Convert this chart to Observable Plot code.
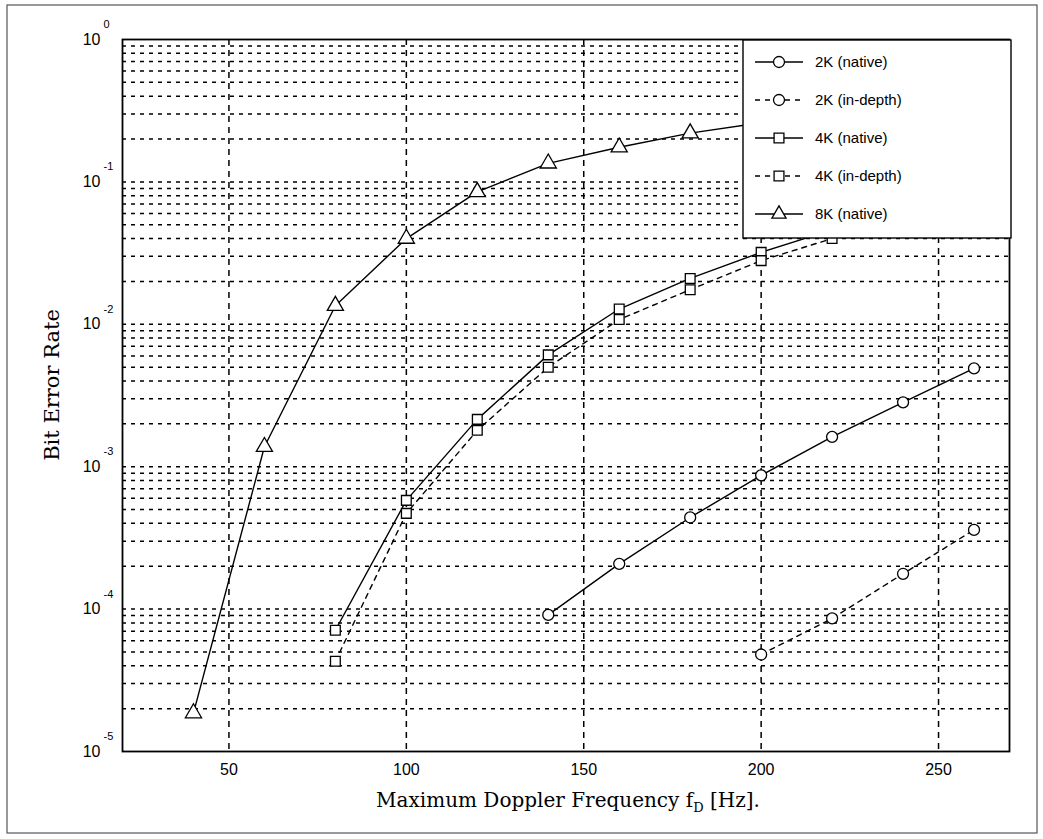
<!DOCTYPE html>
<html>
<head>
<meta charset="utf-8">
<script src="https://cdn.jsdelivr.net/npm/d3@7"></script>
<script src="https://cdn.jsdelivr.net/npm/@observablehq/plot@0.6"></script>
<style>
  html, body { margin: 0; padding: 0; background: #fff; }
  #chart { position: relative; width: 1043px; height: 839px; }
</style>
</head>
<body>
<div id="chart"></div>
<script>
// ---- data ----
const x2kNative = [140, 160, 180, 200, 220, 240, 260];
const ber2kNative = [9.1e-5, 2.08e-4, 4.4e-4, 8.7e-4, 1.62e-3, 2.83e-3, 4.9e-3];

const x2kDepth = [200, 220, 240, 260];
const ber2kDepth = [4.8e-5, 8.6e-5, 1.77e-4, 3.6e-4];

const x4kNative = [80, 100, 120, 140, 160, 180, 200, 220];
const ber4kNative = [7.1e-5, 5.8e-4, 2.15e-3, 6.1e-3, 1.28e-2, 2.1e-2, 3.2e-2, 4.6e-2];

const x4kDepth = [80, 100, 120, 140, 160, 180, 200, 220];
const ber4kDepth = [4.3e-5, 4.7e-4, 1.8e-3, 5.0e-3, 1.08e-2, 1.75e-2, 2.8e-2, 4.0e-2];

const x8kNative = [40, 60, 80, 100, 120, 140, 160, 180, 200];
const ber8kNative = [1.86e-5, 1.38e-3, 1.35e-2, 4.0e-2, 8.5e-2, 1.35e-1, 1.75e-1, 2.2e-1, 2.6e-1];

const seriesNames = ["2K (native)", "2K (in-depth)", "4K (native)", "4K (in-depth)", "8K (native)"];
const seriesSymbols = ["circle", "circle", "square", "square", "triangle"];
const seriesDashed = [false, true, false, true, false];

const xTicks = [50, 100, 150, 200, 250];
const yExponents = [0, -1, -2, -3, -4, -5];
const xLabel = "Maximum Doppler Frequency f";
const xLabelSub = "D";
const xLabelTail = " [Hz].";
const yLabel = "Bit Error Rate";

// ---- build table ----
const xs = [x2kNative, x2kDepth, x4kNative, x4kDepth, x8kNative];
const ys = [ber2kNative, ber2kDepth, ber4kNative, ber4kDepth, ber8kNative];
const rows = [];
xs.forEach((arr, i) => arr.forEach((x, j) => rows.push({series: seriesNames[i], idx: i, x, y: ys[i][j]})));

const minorY = [];
for (let e = -5; e < 0; e++) for (let m = 1; m <= 9; m++) minorY.push(m * Math.pow(10, e));

const sans = "'Liberation Sans', Arial, sans-serif";
const serif = "'DejaVu Serif', 'Liberation Serif', serif";

const chart = Plot.plot({
  width: 1043,
  height: 839,
  marginLeft: 122,
  marginRight: 34,
  marginTop: 39,
  marginBottom: 88,
  style: {fontFamily: sans, background: "#fff", overflow: "visible"},
  x: {domain: [20, 270], axis: null},
  y: {type: "log", domain: [1e-5, 1], axis: null},
  marks: [
    Plot.ruleY(minorY.filter(v => v > 1e-5 && v < 1), {stroke: "#000", strokeWidth: 1.5, strokeDasharray: "4,5"}),
    Plot.ruleX(xTicks, {stroke: "#000", strokeWidth: 1.5, strokeDasharray: "6,5"}),
    ...seriesNames.map((name, i) => Plot.line(rows.filter(r => r.idx === i), {
      x: "x", y: "y", stroke: "#000", strokeWidth: 1.4,
      strokeDasharray: seriesDashed[i] ? "5,5" : null
    })),
    ...seriesNames.map((name, i) => Plot.dot(rows.filter(r => r.idx === i), {
      x: "x", y: "y", symbol: () => seriesSymbols[i], r: i === 4 ? 6 : 5.5,
      fill: "#fff", stroke: "#000", strokeWidth: 1.3
    })),
    Plot.frame({stroke: "#000", strokeWidth: 1.8}),
    Plot.text(xTicks, {x: d => d, y: 1e-5, dy: 18, text: d => String(d), fontSize: 16, fill: "#000", lineAnchor: "middle"}),
    Plot.text(yExponents, {x: 20, y: e => Math.pow(10, e), dx: -22, text: () => "10", textAnchor: "end", fontSize: 16, fill: "#000", lineAnchor: "middle"}),
    Plot.text(yExponents, {x: 20, y: e => Math.pow(10, e), dx: -19, dy: -15, text: e => e === 0 ? "0" : "-" + Math.abs(e), textAnchor: "start", fontSize: 11, fill: "#000", lineAnchor: "middle"})
  ]
});

document.getElementById("chart").appendChild(chart);
const svg = d3.select(chart);

// figure border
svg.insert("rect", ":first-child")
  .attr("x", 7).attr("y", 5).attr("width", 1030).attr("height", 828)
  .attr("fill", "none").attr("stroke", "#555").attr("stroke-width", 1.2);

// axis labels
const xl = svg.append("text")
  .attr("x", 568).attr("y", 807).attr("text-anchor", "middle")
  .attr("font-family", serif).attr("font-size", 20).attr("fill", "#000");
xl.append("tspan").text(xLabel);
xl.append("tspan").attr("dy", 5).attr("font-size", 13).text(xLabelSub);
xl.append("tspan").attr("dy", -5).text(xLabelTail);

svg.append("text")
  .attr("transform", "translate(59,385) rotate(-90)")
  .attr("text-anchor", "middle")
  .attr("font-family", serif).attr("font-size", 21).attr("fill", "#000")
  .text(yLabel);

// legend
const lg = svg.append("g");
const L = {x: 743, y: 40, w: 268, h: 198};
lg.append("rect").attr("x", L.x).attr("y", L.y).attr("width", L.w).attr("height", L.h)
  .attr("fill", "#fff").attr("stroke", "#000").attr("stroke-width", 1.4);
const sym = {
  circle: d3.symbol(d3.symbolCircle, Math.PI * 5.5 * 5.5)(),
  square: d3.symbol(d3.symbolSquare, 4 * 5.5 * 5.5 * 0.8)(),
  triangle: d3.symbol(d3.symbolTriangle, 4 * 6 * 6 * 0.6)()
};
seriesNames.forEach((name, i) => {
  const cy = L.y + 22 + i * 38;
  lg.append("line").attr("x1", L.x + 12).attr("x2", L.x + 60).attr("y1", cy).attr("y2", cy)
    .attr("stroke", "#000").attr("stroke-width", 1.4)
    .attr("stroke-dasharray", seriesDashed[i] ? "5,5" : null);
  lg.append("path").attr("d", sym[seriesSymbols[i]]).attr("transform", `translate(${L.x + 36},${cy})`)
    .attr("fill", "#fff").attr("stroke", "#000").attr("stroke-width", 1.3);
  lg.append("text").attr("x", L.x + 72).attr("y", cy).attr("dy", "0.35em")
    .attr("text-anchor", "start")
    .attr("font-family", sans).attr("font-size", 15).attr("fill", "#000").text(name);
});
</script>
</body>
</html>
